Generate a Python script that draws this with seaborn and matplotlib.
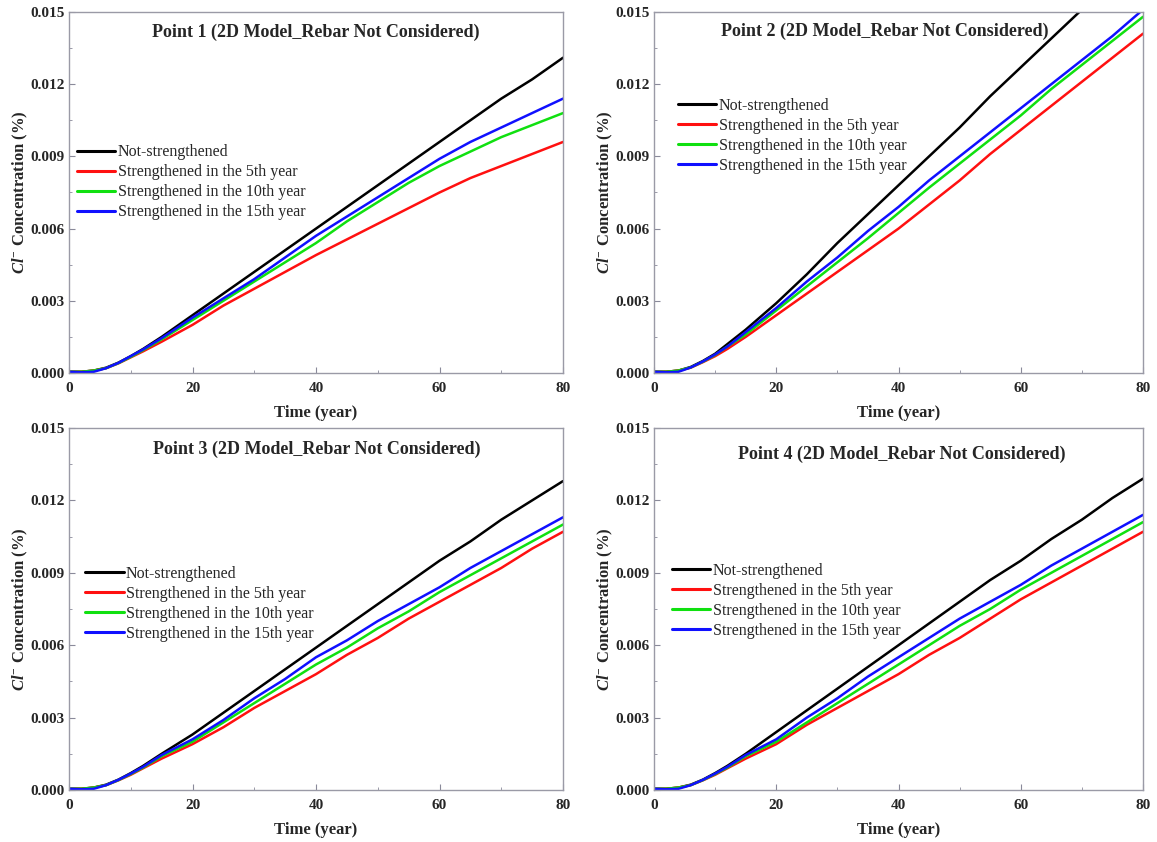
import numpy as np
import pandas as pd
import matplotlib
matplotlib.use("Agg")
import matplotlib.pyplot as plt
import seaborn as sns
from matplotlib.ticker import MultipleLocator, FormatStrFormatter

years = [0, 2, 4, 6, 8, 10, 12, 15, 20, 25, 30, 35, 40, 45, 50, 55, 60, 65, 70, 75, 80]
series_names = ["Not-strengthened", "Strengthened in the 5th year",
                "Strengthened in the 10th year", "Strengthened in the 15th year"]
titles = ["Point 1 (2D Model_Rebar Not Considered)", "Point 2 (2D Model_Rebar Not Considered)",
          "Point 3 (2D Model_Rebar Not Considered)", "Point 4 (2D Model_Rebar Not Considered)"]

p1_not = [0.00005, 0.00005, 0.0001, 0.00022, 0.00043, 0.0007, 0.001, 0.0015, 0.0024, 0.0033, 0.0042, 0.0051, 0.0060, 0.0069, 0.0078, 0.0087, 0.0096, 0.0105, 0.0114, 0.0122, 0.0131]
p1_y5 = [0.00005, 0.00005, 0.0001, 0.0002, 0.0004, 0.00065, 0.0009, 0.0013, 0.0020, 0.0028, 0.0035, 0.0042, 0.0049, 0.00555, 0.0062, 0.00685, 0.0075, 0.0081, 0.0086, 0.0091, 0.0096]
p1_y10 = [0.00005, 0.00005, 0.0001, 0.0002, 0.00041, 0.00067, 0.00095, 0.0014, 0.0022, 0.0030, 0.0038, 0.0046, 0.0054, 0.0063, 0.0071, 0.0079, 0.0086, 0.0092, 0.0098, 0.0103, 0.0108]
p1_y15 = [0.00005, 0.00003, 0.00005, 0.0002, 0.00042, 0.0007, 0.00098, 0.00145, 0.0023, 0.0031, 0.0039, 0.0048, 0.0057, 0.0065, 0.0073, 0.0081, 0.0089, 0.0096, 0.0102, 0.0108, 0.0114]

p2_not = [0.00005, 0.00005, 0.0001, 0.00025, 0.0005, 0.0008, 0.0012, 0.0018, 0.0029, 0.0041, 0.0054, 0.0066, 0.0078, 0.0090, 0.0102, 0.0115, 0.0127, 0.0139, 0.0151, 0.0163, 0.0175]
p2_y5 = [0.00005, 0.00005, 0.0001, 0.00022, 0.00045, 0.0007, 0.001, 0.0015, 0.0024, 0.0033, 0.0042, 0.0051, 0.0060, 0.0070, 0.0080, 0.0091, 0.0101, 0.0111, 0.0121, 0.0131, 0.0141]
p2_y10 = [0.00005, 0.00005, 0.0001, 0.00023, 0.00047, 0.00075, 0.0011, 0.0016, 0.0026, 0.0036, 0.0046, 0.0056, 0.00665, 0.0077, 0.0087, 0.0097, 0.0107, 0.0118, 0.0128, 0.0138, 0.0148]
p2_y15 = [0.00005, 0.00003, 0.00005, 0.00023, 0.00048, 0.00077, 0.0011, 0.0017, 0.0027, 0.0038, 0.0048, 0.0059, 0.0069, 0.0080, 0.0090, 0.0100, 0.0110, 0.0120, 0.0130, 0.0140, 0.0151]

p3_not = [0.00005, 0.00005, 0.0001, 0.00022, 0.00043, 0.0007, 0.001, 0.0015, 0.0023, 0.0032, 0.0041, 0.0050, 0.0059, 0.0068, 0.0077, 0.0086, 0.0095, 0.0103, 0.0112, 0.0120, 0.0128]
p3_y5 = [0.00005, 0.00005, 0.0001, 0.0002, 0.0004, 0.00063, 0.0009, 0.0013, 0.0019, 0.0026, 0.0034, 0.0041, 0.0048, 0.0056, 0.0063, 0.0071, 0.0078, 0.0085, 0.0092, 0.0100, 0.0107]
p3_y10 = [0.00005, 0.00005, 0.0001, 0.0002, 0.00041, 0.00066, 0.00093, 0.0014, 0.0020, 0.0028, 0.0036, 0.0044, 0.0052, 0.0059, 0.0067, 0.0074, 0.0082, 0.0089, 0.0096, 0.0103, 0.0110]
p3_y15 = [0.00005, 0.00003, 0.00005, 0.0002, 0.00042, 0.00068, 0.00096, 0.00145, 0.0021, 0.0029, 0.0038, 0.0046, 0.0055, 0.0062, 0.0070, 0.0077, 0.0084, 0.0092, 0.0099, 0.0106, 0.0113]

p4_not = [0.00005, 0.00005, 0.0001, 0.00022, 0.00043, 0.0007, 0.001, 0.0015, 0.0024, 0.0033, 0.0042, 0.0051, 0.0060, 0.0069, 0.0078, 0.0087, 0.0095, 0.0104, 0.0112, 0.0121, 0.0129]
p4_y5 = [0.00005, 0.00005, 0.0001, 0.0002, 0.0004, 0.00063, 0.0009, 0.0013, 0.0019, 0.0027, 0.0034, 0.0041, 0.0048, 0.0056, 0.0063, 0.0071, 0.0079, 0.0086, 0.0093, 0.0100, 0.0107]
p4_y10 = [0.00005, 0.00005, 0.0001, 0.0002, 0.00041, 0.00066, 0.00093, 0.0014, 0.0020, 0.0028, 0.0036, 0.0044, 0.0052, 0.0060, 0.0068, 0.0075, 0.0083, 0.0090, 0.0097, 0.0104, 0.0111]
p4_y15 = [0.00005, 0.00003, 0.00005, 0.0002, 0.00042, 0.00068, 0.00096, 0.00145, 0.0021, 0.0030, 0.0038, 0.0047, 0.0055, 0.0063, 0.0071, 0.0078, 0.0085, 0.0093, 0.0100, 0.0107, 0.0114]

panels = [
    [p1_not, p1_y5, p1_y10, p1_y15],
    [p2_not, p2_y5, p2_y10, p2_y15],
    [p3_not, p3_y5, p3_y10, p3_y15],
    [p4_not, p4_y5, p4_y10, p4_y15],
]

colors = ["#000000", "#ff1010", "#10e010", "#1010ff"]

sns.set_style("ticks")
plt.rcParams["font.family"] = ["Liberation Serif", "DejaVu Serif"]
plt.rcParams["mathtext.fontset"] = "custom"
plt.rcParams["mathtext.rm"] = "Liberation Serif:bold"
plt.rcParams["mathtext.it"] = "Liberation Serif:italic:bold"
plt.rcParams["mathtext.bf"] = "Liberation Serif:bold"

W, H = 1157, 842
fig = plt.figure(figsize=(W / 100, H / 100), dpi=100)

# axes boxes in pixels: left, right, top, bottom
boxes = [(69, 563, 12, 373), (654, 1143, 12, 373), (69, 563, 428, 790), (654, 1143, 428, 790)]
legend_anchor = [(0.016, 0.528), (0.049, 0.657), (0.033, 0.514), (0.037, 0.522)]
title_pos = [(0.50, 0.943), (0.472, 0.947), (0.502, 0.940), (0.507, 0.926)]

for i, (l, r, t, b) in enumerate(boxes):
    ax = fig.add_axes([l / W, 1 - b / H, (r - l) / W, (b - t) / H])
    rows = []
    for name, vals in zip(series_names, panels[i]):
        for x, y in zip(years, vals):
            rows.append({"Time": x, "Conc": y, "Series": name})
    df = pd.DataFrame(rows)
    sns.lineplot(data=df, x="Time", y="Conc", hue="Series", hue_order=series_names,
                 palette=colors, linewidth=1.8, ax=ax, legend=True, sort=False)
    ax.set_xlim(0, 80)
    ax.set_ylim(0, 0.015)
    ax.xaxis.set_major_locator(MultipleLocator(20))
    ax.xaxis.set_minor_locator(MultipleLocator(10))
    ax.yaxis.set_major_locator(MultipleLocator(0.003))
    ax.yaxis.set_minor_locator(MultipleLocator(0.0015))
    ax.yaxis.set_major_formatter(FormatStrFormatter("%.3f"))
    ax.tick_params(axis="both", which="both", direction="in", color="#8a8a9a")
    ax.tick_params(axis="both", which="major", length=4, labelsize=11)
    ax.tick_params(axis="x", which="major", pad=6.5)
    ax.tick_params(axis="y", which="major", pad=3)
    ax.tick_params(axis="both", which="minor", length=2.5)
    for lab in ax.get_xticklabels() + ax.get_yticklabels():
        lab.set_fontweight("bold")
    for sp in ax.spines.values():
        sp.set_color("#9a9aa6")
        sp.set_linewidth(1.0)
    ax.set_xlabel("Time (year)", fontsize=12, fontweight="bold", labelpad=7)
    ax.set_ylabel(r"$\mathit{Cl}^{-}$ Concentration (%)", fontsize=12, fontweight="bold", labelpad=0)
    ax.text(title_pos[i][0], title_pos[i][1], titles[i], transform=ax.transAxes,
            ha="center", va="center", fontsize=13, fontweight="bold")
    leg = ax.legend(loc="center left", bbox_to_anchor=legend_anchor[i], frameon=False,
                    fontsize=11.5, handlelength=2.4, handletextpad=0.15, labelspacing=0.25,
                    borderpad=0, borderaxespad=0)
    for h in leg.get_lines():
        h.set_linewidth(2.2)

fig.savefig("out.png", dpi=100)
